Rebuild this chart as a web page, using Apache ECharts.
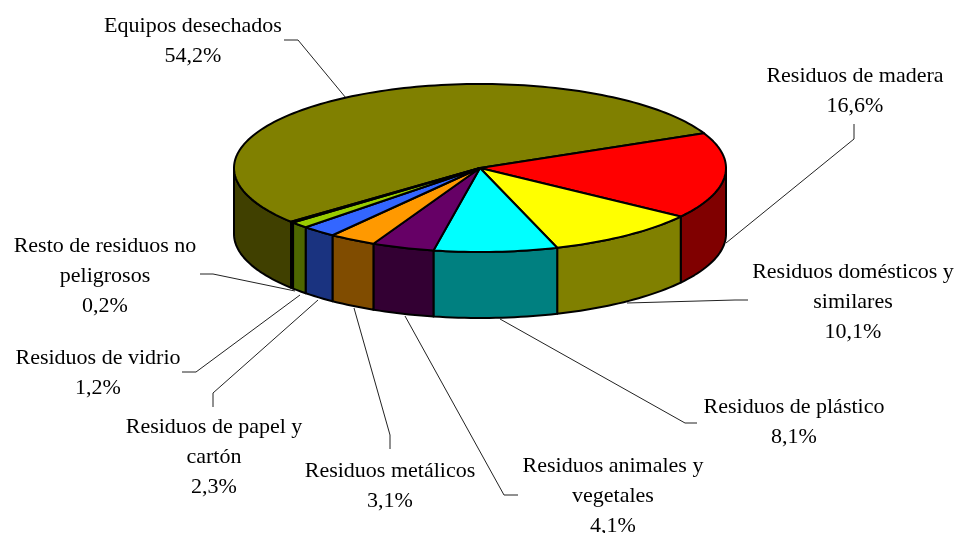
<!DOCTYPE html>
<html>
<head>
<meta charset="utf-8">
<title>Residuos</title>
<style>
  html, body { margin: 0; padding: 0; background: #fff; }
  #chart { width: 957px; height: 533px; }
</style>
<script src="https://cdn.jsdelivr.net/npm/echarts@6/dist/echarts.min.js"></script>
</head>
<body>
<div id="chart"></div>
<script>
// datos de la tarta, en sentido horario
var categories = [
  'Equipos desechados',
  'Residuos de madera',
  'Residuos domésticos y\nsimilares',
  'Residuos de plástico',
  'Residuos animales y\nvegetales',
  'Residuos metálicos',
  'Residuos de papel y\ncartón',
  'Residuos de vidrio',
  'Resto de residuos no\npeligrosos'
];
var values = [54.2, 16.6, 10.1, 8.1, 4.1, 3.1, 2.3, 1.2, 0.2];
var topColors = ['#808000', '#ff0000', '#ffff00', '#00ffff', '#660066', '#ff9900', '#3366ff', '#99cc00', '#333300'];
var sideColors = ['#404000', '#800000', '#808000', '#008080', '#330033', '#804c00', '#1a3380', '#4d6600', '#1a1a00'];

// centro del texto y primera linea de cada etiqueta
var labelPos = [
  [193, 11], [855, 61], [853, 257], [794, 392], [613, 451], [390, 456], [214, 412], [98, 343], [105, 231]
];
// lineas guia
var leaderLines = [
  [[284, 40], [298, 40], [346, 98]],
  [[726, 243], [854, 139], [854, 124]],
  [[748, 300], [735, 300], [627, 303]],
  [[500, 319], [685, 423], [697, 423]],
  [[405, 316], [504, 495], [518, 495]],
  [[354, 308], [390, 435], [390, 449]],
  [[318, 300], [213, 393], [213, 407]],
  [[300, 295], [196, 372], [182, 372]],
  [[295, 291], [213, 274], [200, 274]]
];

var cx = 480, cy = 168, rx = 246, ry = 84, depth = 66;
var startAngle = 140.18;

var total = values.reduce(function (a, b) { return a + b; }, 0);
var angles = [];
var acc = startAngle;
values.forEach(function (v) {
  var next = acc + v / total * 360;
  angles.push([acc, next]);
  acc = next;
});

function rimPoint(deg, dy) {
  var t = deg * Math.PI / 180;
  return [cx + rx * Math.cos(t), cy + ry * Math.sin(t) + (dy || 0)];
}

function arcPoints(a0, a1, dy) {
  var pts = [];
  var n = Math.max(2, Math.ceil((a1 - a0) / 1.5));
  for (var i = 0; i <= n; i++) {
    pts.push(rimPoint(a0 + (a1 - a0) * i / n, dy));
  }
  return pts;
}

function renderWall(params) {
  var i = params.dataIndex;
  var a = angles[i];
  var children = [];
  // solo se ve la pared delantera (0-180 grados)
  [[0, 180], [360, 540]].forEach(function (r) {
    var a0 = Math.max(a[0], r[0]), a1 = Math.min(a[1], r[1]);
    if (a1 <= a0) return;
    var pts = arcPoints(a0, a1, 0).concat(arcPoints(a0, a1, depth).reverse());
    children.push({
      type: 'polygon',
      shape: { points: pts },
      style: { fill: sideColors[i], stroke: '#000', lineWidth: 2, lineJoin: 'round' }
    });
  });
  return { type: 'group', children: children };
}

function renderTop(params) {
  var i = params.dataIndex;
  var a = angles[i];
  return {
    type: 'polygon',
    shape: { points: [[cx, cy]].concat(arcPoints(a[0], a[1], 0)) },
    style: { fill: topColors[i], stroke: '#000', lineWidth: 2, lineJoin: 'round' }
  };
}

function renderLabel(params) {
  var i = params.dataIndex;
  return {
    type: 'group',
    children: [{
      type: 'polyline',
      shape: { points: leaderLines[i] },
      style: { fill: 'none', stroke: '#222', lineWidth: 1 }
    }, {
      type: 'text',
      x: labelPos[i][0],
      y: labelPos[i][1],
      style: {
        text: categories[i] + '\n' + values[i].toFixed(1).replace('.', ',') + '%',
        fontFamily: '"Liberation Serif", serif',
        fontSize: 22,
        lineHeight: 30,
        fill: '#000',
        align: 'center',
        verticalAlign: 'top'
      }
    }]
  };
}

var chart = echarts.init(document.getElementById('chart'));
chart.setOption({
  animation: false,
  backgroundColor: '#fff',
  series: [
    { type: 'custom', coordinateSystem: 'none', data: values, renderItem: renderLabel, z: 1, silent: true },
    { type: 'custom', coordinateSystem: 'none', data: values, renderItem: renderWall, z: 2, silent: true },
    { type: 'custom', coordinateSystem: 'none', data: values, renderItem: renderTop, z: 3, silent: true }
  ]
});
</script>
</body>
</html>
